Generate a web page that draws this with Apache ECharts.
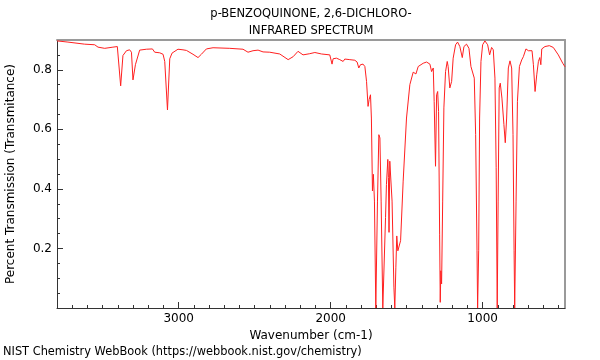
<!DOCTYPE html>
<html>
<head>
<meta charset="utf-8">
<script src="https://cdn.jsdelivr.net/npm/echarts@6/dist/echarts.min.js"></script>
<style>html,body{margin:0;padding:0;background:#fff;}#c{width:600px;height:360px;}</style>
</head>
<body>
<div id="c"></div>
<script>
var titleLines = ['p-BENZOQUINONE, 2,6-DICHLORO-', 'INFRARED SPECTRUM'];
var xName = 'Wavenumber (cm-1)';
var yName = 'Percent Transmission (Transmitance)';
var footer = 'NIST Chemistry WebBook (https://webbook.nist.gov/chemistry)';
var xMajorTicks = [1000, 2000, 3000];
var yMajorTicks = [0.2, 0.4, 0.6, 0.8];
var xRange = [458, 3801];
var yRange = [0, 0.9];

var wavenumber = [
3801,3729,3619,3553,3531,3487,3433,3404,3393,3382,3367,3344,3323,3311,3301,3285,3257,3213,3173,3158,
3125,3103,3092,3074,3059,3044,3005,2972,2949,2906,2873,2851,2818,2774,2664,2577,2544,2511,2478,2445,
2401,2335,2280,2247,2215,2182,2138,2104,2060,2006,1994,1991,1984,1962,1940,1929,1918,1907,1874,1841,
1826,1815,1804,1787,1775,1764,1754,1747,1738,1732,1725,1719,1712,1703,1692,1683,1676,1668,1657,1648,
1639,1633,1624,1620,1616,1611,1605,1596,1584,1578,1571,1565,1558,1549,1540,1523,1501,1479,1457,1446,
1439,1424,1413,1391,1369,1347,1336,1325,1319,1310,1303,1296,1290,1283,1279,1275,1270,1263,1255,1244,
1233,1227,1216,1204,1194,1178,1165,1150,1134,1123,1106,1090,1077,1068,1055,1046,1037,1033,1026,1020,
1011,1000,985,967,954,941,930,919,911,904,898,891,884,873,860,851,842,831,820,809,
800,793,789,780,771,758,743,732,715,699,688,675,666,655,644,633,624,617,611,590,
561,535,502,473,458
];
var transmittance = [
0.897,0.893,0.886,0.884,0.876,0.872,0.876,0.878,0.872,0.746,0.848,0.864,0.867,0.859,0.766,0.817,0.866,0.869,0.870,0.859,
0.857,0.852,0.828,0.665,0.837,0.856,0.869,0.867,0.865,0.852,0.841,0.852,0.870,0.874,0.872,0.869,0.859,0.864,0.866,0.860,
0.859,0.853,0.834,0.844,0.862,0.850,0.854,0.858,0.853,0.850,0.848,0.819,0.837,0.839,0.834,0.828,0.828,0.836,0.834,0.832,
0.826,0.806,0.817,0.819,0.811,0.761,0.677,0.700,0.716,0.638,0.393,0.449,0.359,0.0,0.359,0.582,0.571,0.359,0.0,0.0,
0.304,0.415,0.499,0.438,0.254,0.493,0.499,0.359,0.07,0.0,0.137,0.242,0.192,0.187,0.226,0.426,0.638,0.750,0.792,0.789,
0.786,0.811,0.817,0.822,0.826,0.819,0.794,0.806,0.694,0.476,0.716,0.727,0.660,0.248,0.019,0.125,0.081,0.359,0.672,0.794,
0.828,0.811,0.739,0.761,0.839,0.884,0.893,0.878,0.841,0.878,0.886,0.872,0.811,0.806,0.772,0.582,0.192,0.0,0.192,0.638,
0.828,0.884,0.897,0.884,0.850,0.875,0.867,0.772,0.471,0.0,0.359,0.739,0.755,0.705,0.616,0.555,0.638,0.806,0.830,0.806,
0.582,0.192,0.0,0.359,0.694,0.811,0.833,0.844,0.870,0.864,0.867,0.864,0.817,0.727,0.783,0.828,0.841,0.817,0.870,0.878,
0.881,0.875,0.850,0.822,0.810
];

var xMinorTicks = [];
for (var v = 500; v <= 3800; v += 100) xMinorTicks.push(v);
var yMinorTicks = [];
for (var k = 1; k <= 17; k++) yMinorTicks.push(Math.round(k * 5) / 100);

var data = wavenumber.map(function (w, i) { return [w, transmittance[i]]; });

var FONT = 'DejaVu Sans';
var axisColor = '#333';
var frameColor = '#9a9a9a';

function xAx(extra) {
  var base = {
    type: 'value', inverse: true, min: xRange[0], max: xRange[1], gridIndex: 0,
    splitLine: { show: false }, axisLine: { show: false }, axisTick: { show: false }, axisLabel: { show: false }
  };
  for (var key in extra) base[key] = extra[key];
  return base;
}
function yAx(extra) {
  var base = {
    type: 'value', min: yRange[0], max: yRange[1], gridIndex: 0,
    splitLine: { show: false }, axisLine: { show: false }, axisTick: { show: false }, axisLabel: { show: false }
  };
  for (var key in extra) base[key] = extra[key];
  return base;
}

var chart = echarts.init(document.getElementById('c'), null, { renderer: 'canvas' });
chart.setOption({
  animation: false,
  backgroundColor: '#fff',
  title: [
    { text: titleLines.join('\n'), left: 311, top: 6, textAlign: 'center', padding: 0,
      textStyle: { fontFamily: FONT, fontSize: 11.5, fontWeight: 'normal', color: '#000', lineHeight: 17 } },
    { text: footer, left: 3, top: 347, padding: 0,
      textStyle: { fontFamily: FONT, fontSize: 11.4, fontWeight: 'normal', color: '#000' } }
  ],
  grid: { left: 57, right: 35, top: 40, bottom: 52, containLabel: false, outerBoundsMode: 'none' },
  xAxis: [
    xAx({ position: 'bottom',
      axisLine: { show: true, onZero: false, lineStyle: { color: axisColor, width: 1 } },
      axisTick: { show: true, inside: true, length: 3, customValues: xMinorTicks, lineStyle: { color: axisColor } },
      axisLabel: { show: true, customValues: xMajorTicks, margin: 5, fontFamily: FONT, fontSize: 12, color: '#000',
        formatter: function (v) { return String(v); } },
      name: xName, nameLocation: 'middle', nameGap: 17,
      nameTextStyle: { fontFamily: FONT, fontSize: 12, color: '#000' } }),
    xAx({ position: 'bottom',
      axisTick: { show: true, inside: true, length: 6, customValues: xMajorTicks, lineStyle: { color: axisColor } } }),
    xAx({ position: 'top',
      axisLine: { show: true, onZero: false, lineStyle: { color: frameColor, width: 2 } } })
  ],
  yAxis: [
    yAx({ position: 'left',
      axisLine: { show: true, onZero: false, lineStyle: { color: axisColor, width: 1 } },
      axisTick: { show: true, inside: true, length: 3, customValues: yMinorTicks, lineStyle: { color: axisColor } },
      axisLabel: { show: true, customValues: yMajorTicks, margin: 5, fontFamily: FONT, fontSize: 12, color: '#000',
        formatter: function (v) { return v.toFixed(1); } },
      name: yName, nameLocation: 'middle', nameGap: 40,
      nameTextStyle: { fontFamily: FONT, fontSize: 12, color: '#000' } }),
    yAx({ position: 'left',
      axisTick: { show: true, inside: true, length: 6, customValues: yMajorTicks, lineStyle: { color: axisColor } } }),
    yAx({ position: 'right',
      axisLine: { show: true, onZero: false, lineStyle: { color: frameColor, width: 2 } } })
  ],
  series: [{
    type: 'line', xAxisIndex: 0, yAxisIndex: 0, data: data,
    showSymbol: false, symbol: 'none', smooth: false, clip: true,
    lineStyle: { color: '#ff2020', width: 1 }
  }]
});
</script>
</body>
</html>
